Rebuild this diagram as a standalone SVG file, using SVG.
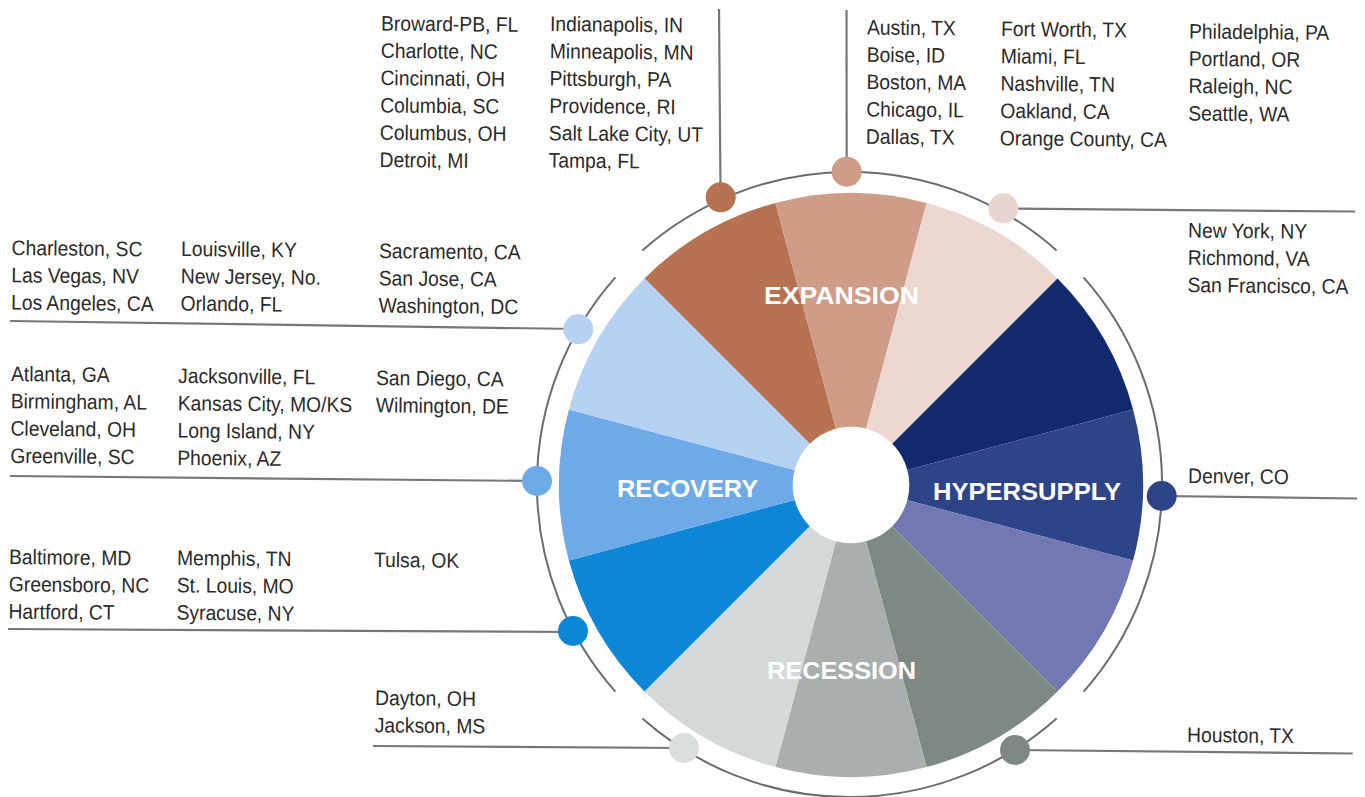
<svg xmlns="http://www.w3.org/2000/svg" width="1365" height="797" viewBox="0 0 1365 797">
  <style>
    .city { font-family: "Liberation Sans", Arial, sans-serif; font-size: 21px; fill: #2a2a2a; }
    .phase { font-family: "Liberation Sans", Arial, sans-serif; font-size: 23px; font-weight: bold; fill: #ffffff; }
    .conn { stroke: #777777; stroke-width: 2.2; fill: none; }
    .ring { stroke: #6c6c6c; stroke-width: 2; fill: none; }
  </style>
  <rect x="0" y="0" width="1365" height="797" fill="#ffffff"/>

  <!-- connectors -->
  <g id="connectors">
    <path class="ring" d="M 1083.6 277.4 A 312.5 312.5 0 0 1 1083.6 691.6"/>
    <path class="ring" d="M 1056.6 718.6 A 312.5 312.5 0 0 1 642.4 718.6"/>
    <path class="ring" d="M 615.4 691.6 A 312.5 312.5 0 0 1 615.4 277.4"/>
    <path class="ring" d="M 642.4 250.4 A 312.5 312.5 0 0 1 1056.6 250.4"/>
    <line class="conn" x1="719" y1="9" x2="720.5" y2="190"/>
    <line class="conn" x1="846.5" y1="10" x2="846.7" y2="165"/>
    <line class="conn" x1="1003" y1="208.5" x2="1355" y2="211.5"/>
    <line class="conn" x1="1161.7" y1="496" x2="1357" y2="498.5"/>
    <line class="conn" x1="1015" y1="750" x2="1352.7" y2="753.5"/>
    <line class="conn" x1="10" y1="321" x2="578" y2="329"/>
    <line class="conn" x1="10" y1="476" x2="537" y2="481"/>
    <line class="conn" x1="8" y1="629" x2="573" y2="632"/>
    <line class="conn" x1="373" y1="746" x2="684" y2="748"/>
  </g>

  <!-- wheel phases -->
  <g id="phase-expansion">
    <path d="M 851 485 L 644.5 278.5 A 292 292 0 0 1 775.4 202.9 Z" fill="#B77351"/>
    <path d="M 851 485 L 775.4 202.9 A 292 292 0 0 1 926.6 202.9 Z" fill="#CF9D87"/>
    <path d="M 851 485 L 926.6 202.9 A 292 292 0 0 1 1057.5 278.5 Z" fill="#ECD7D0"/>
    <text class="phase" x="764" y="304" textLength="155" lengthAdjust="spacingAndGlyphs">EXPANSION</text>
  </g>
  <g id="phase-hypersupply">
    <path d="M 851 485 L 1057.5 278.5 A 292 292 0 0 1 1133.1 409.4 Z" fill="#11296D"/>
    <path d="M 851 485 L 1133.1 409.4 A 292 292 0 0 1 1133.1 560.6 Z" fill="#2D4488"/>
    <path d="M 851 485 L 1133.1 560.6 A 292 292 0 0 1 1057.5 691.5 Z" fill="#7278B1"/>
    <text class="phase" x="933" y="500" textLength="188" lengthAdjust="spacingAndGlyphs">HYPERSUPPLY</text>
  </g>
  <g id="phase-recession">
    <path d="M 851 485 L 1057.5 691.5 A 292 292 0 0 1 926.6 767.1 Z" fill="#7E8984"/>
    <path d="M 851 485 L 926.6 767.1 A 292 292 0 0 1 775.4 767.1 Z" fill="#A8AFAE"/>
    <path d="M 851 485 L 775.4 767.1 A 292 292 0 0 1 644.5 691.5 Z" fill="#D3D9D9"/>
    <text class="phase" x="767" y="679" textLength="149" lengthAdjust="spacingAndGlyphs">RECESSION</text>
  </g>
  <g id="phase-recovery">
    <path d="M 851 485 L 644.5 691.5 A 292 292 0 0 1 568.9 560.6 Z" fill="#0C86D6"/>
    <path d="M 851 485 L 568.9 560.6 A 292 292 0 0 1 568.9 409.4 Z" fill="#6EA9E8"/>
    <path d="M 851 485 L 568.9 409.4 A 292 292 0 0 1 644.5 278.5 Z" fill="#B6D2F3"/>
    <text class="phase" x="617" y="497" textLength="141" lengthAdjust="spacingAndGlyphs">RECOVERY</text>
  </g>
  <g id="hub">
    <circle cx="851" cy="485" r="58.3" fill="#ffffff"/>
  </g>

  <!-- city groups with their markers -->
  <g id="cities-expansion-early">
    <circle cx="720.7" cy="197.3" r="15" fill="#B77351"/>
    <g transform="translate(381,30.5) rotate(0.6) scale(0.92,1)">
      <text class="city" x="0" y="0">Broward-PB, FL</text>
      <text class="city" x="0" y="27.3">Charlotte, NC</text>
      <text class="city" x="0" y="54.6">Cincinnati, OH</text>
      <text class="city" x="0" y="81.9">Columbia, SC</text>
      <text class="city" x="0" y="109.2">Columbus, OH</text>
      <text class="city" x="0" y="136.5">Detroit, MI</text>
    </g>
    <g transform="translate(550,31) rotate(0.6) scale(0.92,1)">
      <text class="city" x="0" y="0">Indianapolis, IN</text>
      <text class="city" x="0" y="27.3">Minneapolis, MN</text>
      <text class="city" x="0" y="54.6">Pittsburgh, PA</text>
      <text class="city" x="0" y="81.9">Providence, RI</text>
      <text class="city" x="0" y="109.2">Salt Lake City, UT</text>
      <text class="city" x="0" y="136.5">Tampa, FL</text>
    </g>
  </g>
  <g id="cities-expansion-mid">
    <circle cx="846.7" cy="171.7" r="15" fill="#CF9D87"/>
    <g transform="translate(867,34.5) rotate(0.6) scale(0.92,1)">
      <text class="city" x="0" y="0">Austin, TX</text>
      <text class="city" x="0" y="27.3">Boise, ID</text>
      <text class="city" x="0" y="54.6">Boston, MA</text>
      <text class="city" x="0" y="81.9">Chicago, IL</text>
      <text class="city" x="0" y="109.2">Dallas, TX</text>
    </g>
    <g transform="translate(1001,36) rotate(0.6) scale(0.92,1)">
      <text class="city" x="0" y="0">Fort Worth, TX</text>
      <text class="city" x="0" y="27.3">Miami, FL</text>
      <text class="city" x="0" y="54.6">Nashville, TN</text>
      <text class="city" x="0" y="81.9">Oakland, CA</text>
      <text class="city" x="0" y="109.2">Orange County, CA</text>
    </g>
  </g>
  <g id="cities-expansion-late">
    <circle cx="1003.3" cy="208.3" r="15" fill="#E9D6D1"/>
    <g transform="translate(1189,38.5) rotate(0.6) scale(0.92,1)">
      <text class="city" x="0" y="0">Philadelphia, PA</text>
      <text class="city" x="0" y="27.3">Portland, OR</text>
      <text class="city" x="0" y="54.6">Raleigh, NC</text>
      <text class="city" x="0" y="81.9">Seattle, WA</text>
    </g>
    <g transform="translate(1188,237.5) rotate(0.6) scale(0.92,1)">
      <text class="city" x="0" y="0">New York, NY</text>
      <text class="city" x="0" y="27.3">Richmond, VA</text>
      <text class="city" x="0" y="54.6">San Francisco, CA</text>
    </g>
  </g>
  <g id="cities-hypersupply">
    <circle cx="1161.7" cy="496" r="15" fill="#2D4488"/>
    <g transform="translate(1188,483) rotate(0.6) scale(0.92,1)">
      <text class="city" x="0" y="0">Denver, CO</text>
    </g>
  </g>
  <g id="cities-recession-early">
    <circle cx="1015" cy="750" r="15" fill="#7E8984"/>
    <g transform="translate(1187,742) rotate(0.6) scale(0.92,1)">
      <text class="city" x="0" y="0">Houston, TX</text>
    </g>
  </g>
  <g id="cities-recession-late">
    <circle cx="684" cy="748" r="15" fill="#D9DDDD"/>
    <g transform="translate(375,705) rotate(0.6) scale(0.92,1)">
      <text class="city" x="0" y="0">Dayton, OH</text>
      <text class="city" x="0" y="27.3">Jackson, MS</text>
    </g>
  </g>
  <g id="cities-recovery-early">
    <circle cx="573" cy="631" r="15" fill="#0C86D6"/>
    <g transform="translate(9,564) rotate(0.6) scale(0.92,1)">
      <text class="city" x="0" y="0">Baltimore, MD</text>
      <text class="city" x="0" y="27.3">Greensboro, NC</text>
      <text class="city" x="0" y="54.6">Hartford, CT</text>
    </g>
    <g transform="translate(177,565) rotate(0.6) scale(0.92,1)">
      <text class="city" x="0" y="0">Memphis, TN</text>
      <text class="city" x="0" y="27.3">St. Louis, MO</text>
      <text class="city" x="0" y="54.6">Syracuse, NY</text>
    </g>
    <g transform="translate(374,567) rotate(0.6) scale(0.92,1)">
      <text class="city" x="0" y="0">Tulsa, OK</text>
    </g>
  </g>
  <g id="cities-recovery-mid">
    <circle cx="537" cy="481" r="15" fill="#6EA9E8"/>
    <g transform="translate(11,381) rotate(0.6) scale(0.92,1)">
      <text class="city" x="0" y="0">Atlanta, GA</text>
      <text class="city" x="0" y="27.3">Birmingham, AL</text>
      <text class="city" x="0" y="54.6">Cleveland, OH</text>
      <text class="city" x="0" y="81.9">Greenville, SC</text>
    </g>
    <g transform="translate(178,383) rotate(0.6) scale(0.92,1)">
      <text class="city" x="0" y="0">Jacksonville, FL</text>
      <text class="city" x="0" y="27.3">Kansas City, MO/KS</text>
      <text class="city" x="0" y="54.6">Long Island, NY</text>
      <text class="city" x="0" y="81.9">Phoenix, AZ</text>
    </g>
    <g transform="translate(376,385) rotate(0.6) scale(0.92,1)">
      <text class="city" x="0" y="0">San Diego, CA</text>
      <text class="city" x="0" y="27.3">Wilmington, DE</text>
    </g>
  </g>
  <g id="cities-recovery-late">
    <circle cx="578.3" cy="329.3" r="15" fill="#B6D2F3"/>
    <g transform="translate(11.5,255) rotate(0.6) scale(0.92,1)">
      <text class="city" x="0" y="0">Charleston, SC</text>
      <text class="city" x="0" y="27.3">Las Vegas, NV</text>
      <text class="city" x="0" y="54.6">Los Angeles, CA</text>
    </g>
    <g transform="translate(181,256) rotate(0.6) scale(0.92,1)">
      <text class="city" x="0" y="0">Louisville, KY</text>
      <text class="city" x="0" y="27.3">New Jersey, No.</text>
      <text class="city" x="0" y="54.6">Orlando, FL</text>
    </g>
    <g transform="translate(379,258) rotate(0.6) scale(0.92,1)">
      <text class="city" x="0" y="0">Sacramento, CA</text>
      <text class="city" x="0" y="27.3">San Jose, CA</text>
      <text class="city" x="0" y="54.6">Washington, DC</text>
    </g>
  </g>
</svg>
